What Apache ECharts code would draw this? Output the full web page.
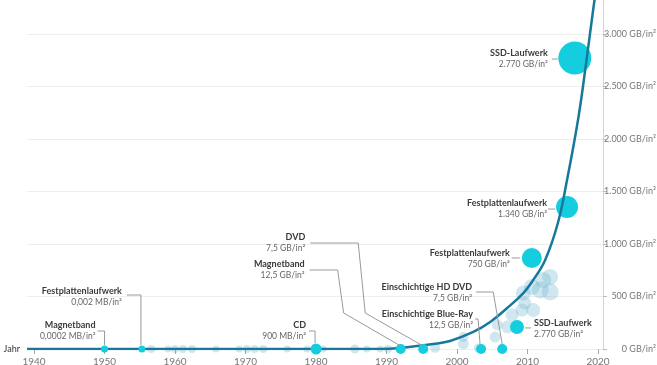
<!DOCTYPE html>
<html>
<head>
<meta charset="utf-8">
<script src="https://cdn.jsdelivr.net/npm/echarts@6/dist/echarts.min.js"></script>
<style>
  html, body { margin: 0; padding: 0; background: #fff; }
  #chart { width: 657px; height: 365px; }
</style>
</head>
<body>
<div id="chart"></div>
<script>
const xTicks = [1940, 1950, 1960, 1970, 1980, 1990, 2000, 2010, 2020];
const yTicks = [0, 500, 1000, 1500, 2000, 2500, 3000];

// Trendlinie (GB/in²)
const trendYears = [1939, 1989, 1991.9, 1996.6, 1999, 2002.3, 2004.7, 2007.1, 2009.4, 2010.8, 2012.5, 2014.3, 2015.6, 2017.2, 2018.4, 2019.3, 2019.9];
const trendValues = [0, 0, 10, 48, 76, 162, 257, 390, 533, 657, 848, 1200, 1610, 2200, 2771, 3229, 3514];

// hervorgehobene Medien
const mediaNames = ['Magnetband', 'Festplattenlaufwerk', 'CD', 'Magnetband', 'DVD', 'Einschichtige Blue-Ray', 'Einschichtige HD DVD', 'SSD-Laufwerk', 'Festplattenlaufwerk', 'Festplattenlaufwerk', 'SSD-Laufwerk'];
const mediaDensity = ['0,0002 MB/in²', '0,002 MB/in²', '900 MB/in²', '12,5 GB/in²', '7,5 GB/in²', '12,5 GB/in²', '7,5 GB/in²', '2.770 GB/in²', '750 GB/in²', '1.340 GB/in²', '2.770 GB/in²'];
const mediaYears = [1950, 1955.3, 1980, 1992, 1995.2, 2003.4, 2006.4, 2008.5, 2010.6, 2015.6, 2016.7];
const mediaValues = [0, 0, 0, 0, 0, 0, 0, 210, 867, 1352, 2771];
const mediaSizes = [7, 7, 11, 10, 10, 10, 10, 14, 20, 22, 33];

// weitere Medien (blass)
const otherYears = [1956.6, 1959, 1960, 1961.1, 1962.4, 1965.8, 1969.1, 1970.2, 1971.3, 1972.5, 1975.9, 1978.7, 1981, 1985.5, 1987.2, 1989.1, 1990.2, 1996.9, 2000.9, 2000.9, 2003, 2005.4, 2005.7, 2007.2, 2007.8, 2009.2, 2009.6, 2010.8, 2009.4, 2010.6, 2011.8, 2013.2, 2012.2, 2013.2];
const otherValues = [0, 0, 0, 0, 0, 0, 0, 0, 0, 0, 0, 0, 0, 0, 0, 0, 0, 10, 48, 114, 10, 114, 229, 210, 324, 371, 438, 371, 533, 590, 562, 543, 657, 686];
const otherSizes = [8, 7, 8, 8, 8, 7, 7, 8, 8, 8, 7, 7, 7, 9, 7, 7, 8, 10, 11, 10, 9, 11, 11, 13, 13, 13, 13, 14, 15, 16, 17, 17, 16, 16];

// Beschriftungen: Versatz zum Punkt in px
const callouts = [
  { dx: -9, dy: -24, line: [[-7, -18], [0, -18], [0, -4]] },
  { dx: -20, dy: -58, line: [[-15, -54], [-1, -54], [-1, -4]] },
  { dx: -10, dy: -24, line: [[-7, -18], [-1, -18], [-1, -6]] },
  { dx: -96, dy: -85, line: [[-91, -79], [-63, -79], [-57, -36], [0, -3]] },
  { dx: -118, dy: -112, line: [[-113, -106], [-65, -106], [-58, -36], [0, -3]] },
  { dx: -8, dy: -35, line: [[-6, -30], [-3, -30], [-1, -5]] },
  { dx: -30, dy: -62, line: [[-26, -57], [-9, -57], [0, -5]] },
  { dx: 17, dy: -4, align: 'left', line: [[8, 1], [14, 1]] },
  { dx: -22, dy: -5, line: [[-20, 0], [-12, 0]] },
  { dx: -20, dy: -4, line: [[-19, 2], [-12, 2]] },
  { dx: -27, dy: -5, line: [[-23, 1], [-17, 1]] }
];

const fmt = v => String(v).replace(/\B(?=(\d{3})+(?!\d))/g, '.') + ' GB/in²';

const media = mediaYears.map((y, i) => [y, mediaValues[i], mediaSizes[i]]);
const chart = echarts.init(document.getElementById('chart'));

chart.setOption({
  animation: false,
  textStyle: { fontFamily: 'Lato' },
  grid: { left: 27, right: 54, top: 0, bottom: 16, outerBoundsMode: 'none' },
  xAxis: {
    type: 'value',
    min: 1939,
    max: 2020.7,
    name: 'Jahr',
    nameLocation: 'start',
    nameGap: 7,
    nameTextStyle: { color: '#333', fontSize: 9 },
    axisLine: { show: false },
    axisTick: { show: true, customValues: xTicks, length: 5, lineStyle: { color: '#aaa' } },
    axisLabel: { customValues: xTicks, formatter: v => String(v), color: '#777', fontSize: 10, margin: 8 },
    splitLine: { show: false }
  },
  yAxis: {
    type: 'value',
    position: 'right',
    min: 0,
    max: 3324,
    interval: 500,
    axisLine: { show: true, lineStyle: { color: '#d4d4d4' } },
    axisTick: { show: true, customValues: yTicks, length: 4, lineStyle: { color: '#bbb' } },
    axisLabel: { customValues: yTicks, formatter: fmt, align: 'right', margin: 53, fontSize: 9, color: '#777' },
    splitLine: { lineStyle: { color: '#eeeeee' } }
  },
  series: [
    {
      type: 'scatter',
      z: 1,
      silent: true,
      data: otherYears.map((y, i) => [y, otherValues[i], otherSizes[i]]),
      symbolSize: v => v[2],
      itemStyle: { color: 'rgba(110,180,205,0.4)' }
    },
    {
      type: 'scatter',
      z: 2,
      silent: true,
      data: media.filter(d => d[1] > 0),
      symbolSize: v => v[2],
      itemStyle: { color: '#14cee0', opacity: 1 }
    },
    {
      type: 'line',
      z: 3,
      silent: true,
      smooth: 0.4,
      showSymbol: false,
      data: trendYears.map((y, i) => [y, trendValues[i]]),
      lineStyle: { color: '#17789c', width: 2.5 }
    },
    {
      type: 'scatter',
      z: 4,
      silent: true,
      data: media.filter(d => d[1] === 0),
      symbolSize: v => v[2],
      itemStyle: { color: '#14cee0', opacity: 1 }
    },
    {
      type: 'custom',
      z: 5,
      silent: true,
      data: media,
      encode: { x: 0, y: 1 },
      renderItem: (params, api) => {
        const i = params.dataIndex;
        const c = callouts[i];
        const p = api.coord([api.value(0), api.value(1)]);
        const align = c.align || 'right';
        return {
          type: 'group',
          children: [
            {
              type: 'polyline',
              shape: { points: c.line.map(o => [p[0] + o[0], p[1] + o[1]]) },
              style: { stroke: '#999', lineWidth: 1, fill: null }
            },
            {
              type: 'text',
              style: {
                text: mediaNames[i], x: p[0] + c.dx, y: p[1] + c.dy,
                align: align, verticalAlign: 'middle',
                fontFamily: 'Lato', fontSize: 9, fontWeight: 'bold', fill: '#3a3a3a'
              }
            },
            {
              type: 'text',
              style: {
                text: mediaDensity[i], x: p[0] + c.dx, y: p[1] + c.dy + 11,
                align: align, verticalAlign: 'middle',
                fontFamily: 'Lato', fontSize: 8.5, fill: '#666'
              }
            }
          ]
        };
      }
    }
  ]
});
</script>
</body>
</html>
